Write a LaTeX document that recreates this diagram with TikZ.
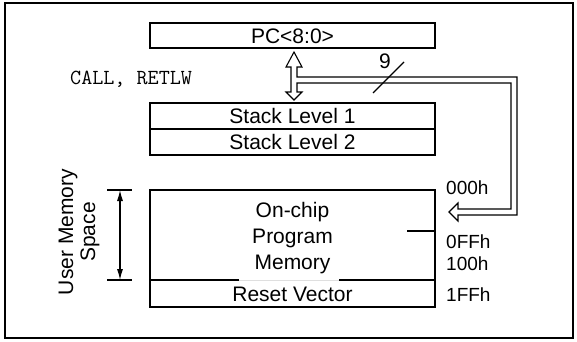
\documentclass[tikz,border=0pt]{standalone}
\usepackage{fontspec}
\setmainfont{Liberation Sans}
\usetikzlibrary{arrows.meta}
\begin{document}
\begin{tikzpicture}[x=1pt,y=-1pt,
  box/.style={draw, line width=1.2pt, inner sep=0pt, minimum width=285pt,
    font=\fontsize{21}{24}\selectfont, text height=15pt, text depth=0pt},
  txt/.style={inner sep=0pt, font=\fontsize{21}{24}\selectfont, text height=15pt, text depth=0pt},
  addr/.style={inner sep=0pt, anchor=west, font=\fontsize{19}{22}\selectfont, text height=13.6pt, text depth=0pt},
  thin/.style={line width=1.1pt}]
\useasboundingbox (0,0) rectangle (577,341);
\draw[line width=2.2pt] (5,3) rectangle (573,338);
% boxes
\node[box, minimum height=25pt] (pc) at (292.5,35.5) {PC<8:0>};
\node[box, minimum height=26pt] (s1) at (292.5,116) {Stack Level 1};
\node[box, minimum height=26pt] (s2) at (292.5,142) {Stack Level 2};
\node[draw, line width=1.2pt, inner sep=0pt, minimum width=285pt, minimum height=117pt] (mem) at (292.5,248.5) {};
\node[txt] (t1) at (292.5,210) {On-chip};
\node[txt] (t2) at (292.5,236) {Program};
\node[txt] (t3) at (292.5,262) {Memory};
\draw[gray!25, line width=1pt] (239,280) -- (339,280);
\draw[line width=1.2pt] (150,280) -- (239,280) (339,280) -- (435,280);
\node[txt] (rv) at (292.5,293.5) {Reset Vector};
\draw[thin] (407,231) -- (435,231);
% hollow bus arrow
\draw[line width=1.1pt, fill=white, line join=miter]
  (297,67) -- (302,67) -- (294,52) -- (286,67) -- (291,67) -- (291,92) -- (286,92)
  -- (294,100) -- (302,92) -- (297,92) -- (297,83) -- (511,83) -- (511,209)
  -- (458,209) -- (458,203) -- (449,212) -- (458,221) -- (458,215) -- (517,215)
  -- (517,77) -- (297,77) -- cycle;
\node[txt] (nine) at (385,61) {9};
\coordinate (sl1) at (373,93);
\coordinate (sl2) at (404,62);
\draw[thin] (sl1) -- (sl2);
\node[inner sep=0pt, anchor=west, font=\ttfamily\fontsize{21.5}{24}\selectfont] (call) at (70,79) {CALL, RETLW};
% addresses
\node[addr] (a0) at (446,187.5) {000h};
\node[addr] (a1) at (446,242) {0FFh};
\node[addr] (a2) at (446,263.5) {100h};
\node[addr] (a3) at (446,295) {1FFh};
% dimension
\coordinate (d1) at (120,190);
\coordinate (d2) at (120,280);
\draw[thin] (107,190) -- (132,190) (107,280) -- (132,280);
\draw[thin, {Latex[length=11pt,width=6pt]}-{Latex[length=11pt,width=6pt]}] (d1) -- (d2);
\node[rotate=90, align=center, inner sep=0pt, font=\fontsize{21}{22}\selectfont] (ums) at (79,232) {User Memory\\Space};
\end{tikzpicture}
\end{document}
